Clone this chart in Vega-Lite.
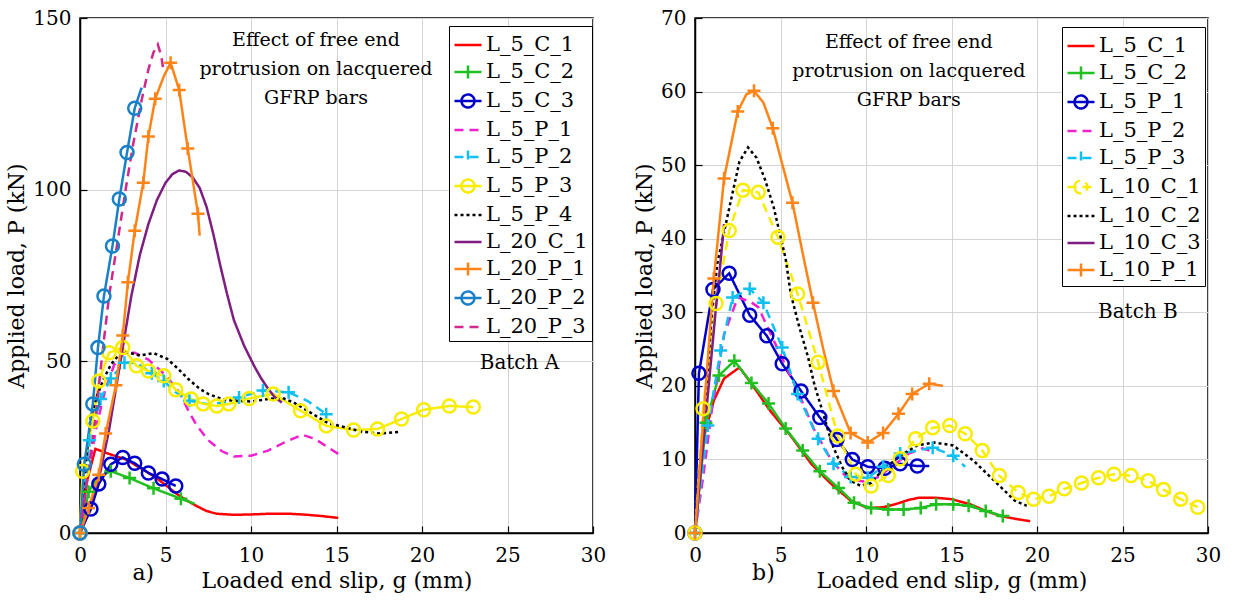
{
"$schema": "https://vega.github.io/schema/vega-lite/v6.json",
"background": "white",
"padding": {"left": 5, "top": 7, "right": 5, "bottom": 2},
"config": {
 "font": "DejaVu Serif",
 "view": {"stroke": "black", "strokeWidth": 1.5},
 "axis": {"labelFont": "DejaVu Serif", "titleFont": "DejaVu Serif", "labelFontSize": 20, "titleFontSize": 22, "titleFontWeight": "normal", "labelColor": "black", "titleColor": "black", "domainColor": "black", "domainWidth": 1.5, "tickColor": "black", "tickSize": -7, "tickWidth": 1.2, "gridColor": "#d4d4d4", "gridWidth": 1, "labelFlush": false},
 "axisX": {"labelPadding": 19, "titlePadding": 5},
 "axisY": {"labelPadding": 16, "titlePadding": 4},
 "legend": {"labelFont": "DejaVu Serif", "labelFontSize": 21, "labelColor": "black", "symbolSize": 729, "symbolStrokeWidth": 2.5, "symbolType": "stroke", "strokeColor": "black", "fillColor": "white", "padding": 4, "rowPadding": 2, "labelOffset": 3},
 "text": {"font": "DejaVu Serif"}
},
"datasets": {
 "la": [
  {"s":"L_5_C_1","x":0,"y":0},{"s":"L_5_C_1","x":0.4,"y":15},{"s":"L_5_C_1","x":0.9,"y":24.5},{"s":"L_5_C_1","x":1.6,"y":23.2},{"s":"L_5_C_1","x":2.7,"y":21.4},{"s":"L_5_C_1","x":3.5,"y":19},{"s":"L_5_C_1","x":4.3,"y":16.6},{"s":"L_5_C_1","x":5,"y":14},{"s":"L_5_C_1","x":5.6,"y":11.6},{"s":"L_5_C_1","x":6.2,"y":9.6},{"s":"L_5_C_1","x":6.8,"y":7.9},{"s":"L_5_C_1","x":7.4,"y":6.4},{"s":"L_5_C_1","x":8,"y":5.6},{"s":"L_5_C_1","x":9,"y":5.3},{"s":"L_5_C_1","x":10,"y":5.4},{"s":"L_5_C_1","x":11,"y":5.6},{"s":"L_5_C_1","x":12.3,"y":5.6},{"s":"L_5_C_1","x":13.3,"y":5.3},{"s":"L_5_C_1","x":14.2,"y":4.9},{"s":"L_5_C_1","x":15.1,"y":4.4},
  {"s":"L_5_C_2","x":0,"y":0},{"s":"L_5_C_2","x":0.5,"y":12},{"s":"L_5_C_2","x":1,"y":16},{"s":"L_5_C_2","x":1.8,"y":18},{"s":"L_5_C_2","x":2.9,"y":16},{"s":"L_5_C_2","x":4.3,"y":13},{"s":"L_5_C_2","x":5.9,"y":10},{"s":"L_5_C_2","x":6.7,"y":8.5},
  {"s":"L_5_C_3","x":0,"y":0},{"s":"L_5_C_3","x":0.64,"y":7},{"s":"L_5_C_3","x":1.1,"y":14.3},{"s":"L_5_C_3","x":1.8,"y":20},{"s":"L_5_C_3","x":2.5,"y":22},{"s":"L_5_C_3","x":3.2,"y":20.3},{"s":"L_5_C_3","x":4,"y":17.5},{"s":"L_5_C_3","x":4.8,"y":15.7},{"s":"L_5_C_3","x":5.6,"y":13.7},
  {"s":"L_5_P_1","x":0,"y":0},{"s":"L_5_P_1","x":0.5,"y":18},{"s":"L_5_P_1","x":1,"y":32},{"s":"L_5_P_1","x":1.5,"y":42},{"s":"L_5_P_1","x":2,"y":49},{"s":"L_5_P_1","x":2.6,"y":52.5},{"s":"L_5_P_1","x":3.2,"y":52.5},{"s":"L_5_P_1","x":4,"y":50.5},{"s":"L_5_P_1","x":5,"y":46},{"s":"L_5_P_1","x":5.8,"y":41},{"s":"L_5_P_1","x":6.3,"y":36},{"s":"L_5_P_1","x":6.8,"y":31.5},{"s":"L_5_P_1","x":7.5,"y":27},{"s":"L_5_P_1","x":8.3,"y":23.8},{"s":"L_5_P_1","x":9,"y":22.3},{"s":"L_5_P_1","x":10,"y":22.5},{"s":"L_5_P_1","x":11,"y":24},{"s":"L_5_P_1","x":12,"y":26.5},{"s":"L_5_P_1","x":13,"y":28.6},{"s":"L_5_P_1","x":13.7,"y":27.5},{"s":"L_5_P_1","x":14.5,"y":25},{"s":"L_5_P_1","x":15.3,"y":22.4},
  {"s":"L_5_P_2","x":0,"y":0},{"s":"L_5_P_2","x":0.55,"y":27},{"s":"L_5_P_2","x":1.2,"y":39},{"s":"L_5_P_2","x":1.8,"y":45},{"s":"L_5_P_2","x":2.6,"y":49.6},{"s":"L_5_P_2","x":3.3,"y":49.5},{"s":"L_5_P_2","x":4.2,"y":46.5},{"s":"L_5_P_2","x":4.9,"y":44.3},{"s":"L_5_P_2","x":5.6,"y":41},{"s":"L_5_P_2","x":6.4,"y":38.5},{"s":"L_5_P_2","x":7.5,"y":37.5},{"s":"L_5_P_2","x":8.4,"y":38},{"s":"L_5_P_2","x":9.3,"y":39.5},{"s":"L_5_P_2","x":10.7,"y":41.5},{"s":"L_5_P_2","x":12.2,"y":41},{"s":"L_5_P_2","x":13.3,"y":38.5},{"s":"L_5_P_2","x":14.4,"y":34.6},
  {"s":"L_5_P_3","x":0,"y":0},{"s":"L_5_P_3","x":0.15,"y":18},{"s":"L_5_P_3","x":0.75,"y":32.6},{"s":"L_5_P_3","x":1.1,"y":44.3},{"s":"L_5_P_3","x":1.7,"y":52.5},{"s":"L_5_P_3","x":2.5,"y":54},{"s":"L_5_P_3","x":3.3,"y":48.7},{"s":"L_5_P_3","x":4,"y":47.2},{"s":"L_5_P_3","x":4.9,"y":45.8},{"s":"L_5_P_3","x":5.6,"y":41.7},{"s":"L_5_P_3","x":6.5,"y":39},{"s":"L_5_P_3","x":7.2,"y":37.6},{"s":"L_5_P_3","x":8,"y":37},{"s":"L_5_P_3","x":8.7,"y":37.6},{"s":"L_5_P_3","x":9.9,"y":39.2},{"s":"L_5_P_3","x":11.3,"y":40.5},{"s":"L_5_P_3","x":12.9,"y":35.6},{"s":"L_5_P_3","x":14.4,"y":31.2},{"s":"L_5_P_3","x":16,"y":30},{"s":"L_5_P_3","x":17.4,"y":30.3},{"s":"L_5_P_3","x":18.8,"y":33.2},{"s":"L_5_P_3","x":20.1,"y":35.9},{"s":"L_5_P_3","x":21.6,"y":37},{"s":"L_5_P_3","x":23,"y":36.7},
  {"s":"L_5_P_4","x":0,"y":0},{"s":"L_5_P_4","x":0.3,"y":18},{"s":"L_5_P_4","x":0.6,"y":33},{"s":"L_5_P_4","x":1,"y":40},{"s":"L_5_P_4","x":1.4,"y":45},{"s":"L_5_P_4","x":1.8,"y":49},{"s":"L_5_P_4","x":2.3,"y":52},{"s":"L_5_P_4","x":2.8,"y":52.6},{"s":"L_5_P_4","x":3.5,"y":51.7},{"s":"L_5_P_4","x":4.3,"y":52.4},{"s":"L_5_P_4","x":5.1,"y":50.7},{"s":"L_5_P_4","x":5.7,"y":48},{"s":"L_5_P_4","x":6.3,"y":45},{"s":"L_5_P_4","x":7,"y":42},{"s":"L_5_P_4","x":7.5,"y":40.5},{"s":"L_5_P_4","x":8.3,"y":39},{"s":"L_5_P_4","x":9,"y":38.5},{"s":"L_5_P_4","x":10,"y":38.3},{"s":"L_5_P_4","x":11,"y":39},{"s":"L_5_P_4","x":11.8,"y":39.4},{"s":"L_5_P_4","x":12.5,"y":38},{"s":"L_5_P_4","x":13.5,"y":35},{"s":"L_5_P_4","x":14.5,"y":32},{"s":"L_5_P_4","x":15.5,"y":30.8},{"s":"L_5_P_4","x":16.5,"y":29.5},{"s":"L_5_P_4","x":17.5,"y":29},{"s":"L_5_P_4","x":18.6,"y":29.4},
  {"s":"L_20_C_1","x":0,"y":0},{"s":"L_20_C_1","x":0.6,"y":8},{"s":"L_20_C_1","x":1.2,"y":18},{"s":"L_20_C_1","x":1.7,"y":30},{"s":"L_20_C_1","x":2.2,"y":45},{"s":"L_20_C_1","x":2.6,"y":57},{"s":"L_20_C_1","x":3,"y":69},{"s":"L_20_C_1","x":3.5,"y":81},{"s":"L_20_C_1","x":4,"y":90},{"s":"L_20_C_1","x":4.5,"y":97},{"s":"L_20_C_1","x":5,"y":102},{"s":"L_20_C_1","x":5.4,"y":104.5},{"s":"L_20_C_1","x":5.8,"y":105.6},{"s":"L_20_C_1","x":6.2,"y":105.2},{"s":"L_20_C_1","x":6.6,"y":103.5},{"s":"L_20_C_1","x":7,"y":100.5},{"s":"L_20_C_1","x":7.4,"y":95},{"s":"L_20_C_1","x":7.8,"y":87},{"s":"L_20_C_1","x":8.2,"y":78},{"s":"L_20_C_1","x":8.6,"y":69.6},{"s":"L_20_C_1","x":9,"y":62},{"s":"L_20_C_1","x":9.6,"y":54.5},{"s":"L_20_C_1","x":10.2,"y":48.5},{"s":"L_20_C_1","x":10.6,"y":45},{"s":"L_20_C_1","x":11,"y":42},{"s":"L_20_C_1","x":11.4,"y":39.5},{"s":"L_20_C_1","x":11.8,"y":38},
  {"s":"L_20_P_1","x":0,"y":0},{"s":"L_20_P_1","x":0.5,"y":7.3},{"s":"L_20_P_1","x":1.1,"y":17},{"s":"L_20_P_1","x":1.5,"y":29},{"s":"L_20_P_1","x":2.1,"y":43},{"s":"L_20_P_1","x":2.5,"y":57.5},{"s":"L_20_P_1","x":2.8,"y":73},{"s":"L_20_P_1","x":3.2,"y":88},{"s":"L_20_P_1","x":3.7,"y":102},{"s":"L_20_P_1","x":4,"y":115.5},{"s":"L_20_P_1","x":4.4,"y":126.5},{"s":"L_20_P_1","x":4.9,"y":133},{"s":"L_20_P_1","x":5.3,"y":137},{"s":"L_20_P_1","x":5.8,"y":129},{"s":"L_20_P_1","x":6.3,"y":112},{"s":"L_20_P_1","x":6.9,"y":93},{"s":"L_20_P_1","x":7,"y":86.6},
  {"s":"L_20_P_2","x":0,"y":0},{"s":"L_20_P_2","x":0.25,"y":20},{"s":"L_20_P_2","x":0.75,"y":37.6},{"s":"L_20_P_2","x":1.05,"y":54},{"s":"L_20_P_2","x":1.4,"y":69},{"s":"L_20_P_2","x":1.9,"y":83.6},{"s":"L_20_P_2","x":2.3,"y":97.3},{"s":"L_20_P_2","x":2.75,"y":110.8},{"s":"L_20_P_2","x":3.2,"y":123.7},{"s":"L_20_P_2","x":3.6,"y":129.7},
  {"s":"L_20_P_3","x":0,"y":0},{"s":"L_20_P_3","x":0.4,"y":15},{"s":"L_20_P_3","x":0.9,"y":33},{"s":"L_20_P_3","x":1.3,"y":52},{"s":"L_20_P_3","x":1.7,"y":69},{"s":"L_20_P_3","x":2.2,"y":85},{"s":"L_20_P_3","x":2.7,"y":101},{"s":"L_20_P_3","x":3.1,"y":113},{"s":"L_20_P_3","x":3.6,"y":126},{"s":"L_20_P_3","x":4,"y":135},{"s":"L_20_P_3","x":4.3,"y":140},{"s":"L_20_P_3","x":4.55,"y":142.3},{"s":"L_20_P_3","x":4.75,"y":139},{"s":"L_20_P_3","x":4.9,"y":134}
 ],
 "ma": [
  {"s":"L_5_C_2","x":0,"y":0},{"s":"L_5_C_2","x":0.5,"y":12},{"s":"L_5_C_2","x":1.8,"y":18},{"s":"L_5_C_2","x":2.9,"y":16},{"s":"L_5_C_2","x":4.3,"y":13},{"s":"L_5_C_2","x":5.9,"y":10},
  {"s":"L_5_C_3","x":0,"y":0},{"s":"L_5_C_3","x":0.64,"y":7},{"s":"L_5_C_3","x":1.1,"y":14.3},{"s":"L_5_C_3","x":1.8,"y":20},{"s":"L_5_C_3","x":2.5,"y":22},{"s":"L_5_C_3","x":3.2,"y":20.3},{"s":"L_5_C_3","x":4,"y":17.5},{"s":"L_5_C_3","x":4.8,"y":15.7},{"s":"L_5_C_3","x":5.6,"y":13.7},
  {"s":"L_5_P_2","x":0,"y":0},{"s":"L_5_P_2","x":0.55,"y":27},{"s":"L_5_P_2","x":1.2,"y":39},{"s":"L_5_P_2","x":1.8,"y":45},{"s":"L_5_P_2","x":2.6,"y":49.6},{"s":"L_5_P_2","x":4.2,"y":46.5},{"s":"L_5_P_2","x":4.9,"y":44.3},{"s":"L_5_P_2","x":6.4,"y":38.5},{"s":"L_5_P_2","x":9.3,"y":39.5},{"s":"L_5_P_2","x":10.7,"y":41.5},{"s":"L_5_P_2","x":12.2,"y":41},{"s":"L_5_P_2","x":14.4,"y":34.6},
  {"s":"L_5_P_3","x":0,"y":0},{"s":"L_5_P_3","x":0.15,"y":18},{"s":"L_5_P_3","x":0.75,"y":32.6},{"s":"L_5_P_3","x":1.1,"y":44.3},{"s":"L_5_P_3","x":1.7,"y":52.5},{"s":"L_5_P_3","x":2.5,"y":54},{"s":"L_5_P_3","x":3.3,"y":48.7},{"s":"L_5_P_3","x":4,"y":47.2},{"s":"L_5_P_3","x":4.9,"y":45.8},{"s":"L_5_P_3","x":5.6,"y":41.7},{"s":"L_5_P_3","x":6.5,"y":39},{"s":"L_5_P_3","x":7.2,"y":37.6},{"s":"L_5_P_3","x":8,"y":37},{"s":"L_5_P_3","x":8.7,"y":37.6},{"s":"L_5_P_3","x":9.9,"y":39.2},{"s":"L_5_P_3","x":11.3,"y":40.5},{"s":"L_5_P_3","x":12.9,"y":35.6},{"s":"L_5_P_3","x":14.4,"y":31.2},{"s":"L_5_P_3","x":16,"y":30},{"s":"L_5_P_3","x":17.4,"y":30.3},{"s":"L_5_P_3","x":18.8,"y":33.2},{"s":"L_5_P_3","x":20.1,"y":35.9},{"s":"L_5_P_3","x":21.6,"y":37},{"s":"L_5_P_3","x":23,"y":36.7},
  {"s":"L_20_P_1","x":0,"y":0},{"s":"L_20_P_1","x":0.5,"y":7.3},{"s":"L_20_P_1","x":1.1,"y":17},{"s":"L_20_P_1","x":1.5,"y":29},{"s":"L_20_P_1","x":2.1,"y":43},{"s":"L_20_P_1","x":2.5,"y":57.5},{"s":"L_20_P_1","x":2.8,"y":73},{"s":"L_20_P_1","x":3.2,"y":88},{"s":"L_20_P_1","x":3.7,"y":102},{"s":"L_20_P_1","x":4,"y":115.5},{"s":"L_20_P_1","x":4.4,"y":126.5},{"s":"L_20_P_1","x":5.3,"y":137},{"s":"L_20_P_1","x":5.8,"y":129},{"s":"L_20_P_1","x":6.3,"y":112},{"s":"L_20_P_1","x":6.9,"y":93},
  {"s":"L_20_P_2","x":0,"y":0},{"s":"L_20_P_2","x":0.25,"y":20},{"s":"L_20_P_2","x":0.75,"y":37.6},{"s":"L_20_P_2","x":1.05,"y":54},{"s":"L_20_P_2","x":1.4,"y":69},{"s":"L_20_P_2","x":1.9,"y":83.6},{"s":"L_20_P_2","x":2.3,"y":97.3},{"s":"L_20_P_2","x":2.75,"y":110.8},{"s":"L_20_P_2","x":3.2,"y":123.7}
 ],
 "lb": [
  {"s":"L_5_C_1","x":0,"y":0},{"s":"L_5_C_1","x":0.5,"y":12.9},{"s":"L_5_C_1","x":1.1,"y":18},{"s":"L_5_C_1","x":1.7,"y":21},{"s":"L_5_C_1","x":2.6,"y":22.5},{"s":"L_5_C_1","x":3.3,"y":20.3},{"s":"L_5_C_1","x":4.4,"y":16.6},{"s":"L_5_C_1","x":5.6,"y":13.2},{"s":"L_5_C_1","x":6.8,"y":9.4},{"s":"L_5_C_1","x":7.95,"y":6.7},{"s":"L_5_C_1","x":9.1,"y":4.4},{"s":"L_5_C_1","x":10.1,"y":3.4},{"s":"L_5_C_1","x":11,"y":3.5},{"s":"L_5_C_1","x":11.7,"y":3.9},{"s":"L_5_C_1","x":12.5,"y":4.5},{"s":"L_5_C_1","x":13.1,"y":4.8},{"s":"L_5_C_1","x":14,"y":4.8},{"s":"L_5_C_1","x":15,"y":4.6},{"s":"L_5_C_1","x":16.1,"y":3.9},{"s":"L_5_C_1","x":17,"y":3},{"s":"L_5_C_1","x":17.9,"y":2.3},{"s":"L_5_C_1","x":18.8,"y":1.9},{"s":"L_5_C_1","x":19.6,"y":1.6},
  {"s":"L_5_C_2","x":0,"y":0},{"s":"L_5_C_2","x":0.64,"y":15},{"s":"L_5_C_2","x":1.4,"y":21.4},{"s":"L_5_C_2","x":2.3,"y":23.4},{"s":"L_5_C_2","x":3.3,"y":20.4},{"s":"L_5_C_2","x":4.3,"y":17.6},{"s":"L_5_C_2","x":5.3,"y":14.2},{"s":"L_5_C_2","x":6.3,"y":11.2},{"s":"L_5_C_2","x":7.3,"y":8.4},{"s":"L_5_C_2","x":8.4,"y":6.1},{"s":"L_5_C_2","x":9.3,"y":4.1},{"s":"L_5_C_2","x":10.3,"y":3.4},{"s":"L_5_C_2","x":11.3,"y":3.2},{"s":"L_5_C_2","x":12.2,"y":3.2},{"s":"L_5_C_2","x":13.2,"y":3.4},{"s":"L_5_C_2","x":14.1,"y":3.9},{"s":"L_5_C_2","x":15.1,"y":3.9},{"s":"L_5_C_2","x":16,"y":3.7},{"s":"L_5_C_2","x":17,"y":3},{"s":"L_5_C_2","x":18,"y":2.3},
  {"s":"L_5_P_1","x":0,"y":0},{"s":"L_5_P_1","x":0.23,"y":21.7},{"s":"L_5_P_1","x":1.05,"y":33.1},{"s":"L_5_P_1","x":2,"y":35.3},{"s":"L_5_P_1","x":3.2,"y":29.6},{"s":"L_5_P_1","x":4.2,"y":26.8},{"s":"L_5_P_1","x":5.1,"y":23},{"s":"L_5_P_1","x":6.2,"y":19.3},{"s":"L_5_P_1","x":7.3,"y":15.7},{"s":"L_5_P_1","x":8.3,"y":12.7},{"s":"L_5_P_1","x":9.2,"y":10},{"s":"L_5_P_1","x":10.1,"y":9},{"s":"L_5_P_1","x":11.1,"y":8.8},{"s":"L_5_P_1","x":12,"y":9.4},{"s":"L_5_P_1","x":13,"y":9.1},{"s":"L_5_P_1","x":13.7,"y":9.1},
  {"s":"L_5_P_2","x":0,"y":0},{"s":"L_5_P_2","x":0.5,"y":8},{"s":"L_5_P_2","x":1,"y":17},{"s":"L_5_P_2","x":1.7,"y":27},{"s":"L_5_P_2","x":2.5,"y":32},{"s":"L_5_P_2","x":3.2,"y":31.5},{"s":"L_5_P_2","x":3.7,"y":30.7},{"s":"L_5_P_2","x":4.8,"y":25.2},{"s":"L_5_P_2","x":6,"y":19.3},{"s":"L_5_P_2","x":7,"y":13.9},{"s":"L_5_P_2","x":8,"y":9.8},{"s":"L_5_P_2","x":8.9,"y":7.5},{"s":"L_5_P_2","x":9.8,"y":7},{"s":"L_5_P_2","x":10.7,"y":7.6},{"s":"L_5_P_2","x":11.5,"y":9},{"s":"L_5_P_2","x":12.5,"y":10.8},{"s":"L_5_P_2","x":13.3,"y":11.5},{"s":"L_5_P_2","x":14,"y":11},
  {"s":"L_5_P_3","x":0,"y":0},{"s":"L_5_P_3","x":0.75,"y":14.6},{"s":"L_5_P_3","x":1.5,"y":24.8},{"s":"L_5_P_3","x":2.2,"y":32},{"s":"L_5_P_3","x":3.2,"y":33.2},{"s":"L_5_P_3","x":4,"y":31.3},{"s":"L_5_P_3","x":5.1,"y":25.2},{"s":"L_5_P_3","x":6,"y":18.9},{"s":"L_5_P_3","x":7.2,"y":12.8},{"s":"L_5_P_3","x":8.1,"y":9.4},{"s":"L_5_P_3","x":9.1,"y":7.6},{"s":"L_5_P_3","x":10.1,"y":7.5},{"s":"L_5_P_3","x":11,"y":9},{"s":"L_5_P_3","x":12,"y":10.8},{"s":"L_5_P_3","x":13.9,"y":11.6},{"s":"L_5_P_3","x":15.1,"y":10.5},{"s":"L_5_P_3","x":15.8,"y":9},
  {"s":"L_10_C_1","x":0,"y":0},{"s":"L_10_C_1","x":0.47,"y":16.9},{"s":"L_10_C_1","x":1.23,"y":31.2},{"s":"L_10_C_1","x":2,"y":41.1},{"s":"L_10_C_1","x":2.8,"y":46.6},{"s":"L_10_C_1","x":3.7,"y":46.3},{"s":"L_10_C_1","x":4.85,"y":40.2},{"s":"L_10_C_1","x":6,"y":32.5},{"s":"L_10_C_1","x":7.2,"y":23.2},{"s":"L_10_C_1","x":8.35,"y":13.2},{"s":"L_10_C_1","x":9.4,"y":8},{"s":"L_10_C_1","x":10.3,"y":6.4},{"s":"L_10_C_1","x":11.3,"y":7.8},{"s":"L_10_C_1","x":12,"y":10.1},{"s":"L_10_C_1","x":12.9,"y":12.8},{"s":"L_10_C_1","x":13.9,"y":14.3},{"s":"L_10_C_1","x":14.9,"y":14.6},{"s":"L_10_C_1","x":15.8,"y":13.5},{"s":"L_10_C_1","x":16.8,"y":11.2},{"s":"L_10_C_1","x":17.8,"y":7.8},{"s":"L_10_C_1","x":18.9,"y":5.5},{"s":"L_10_C_1","x":19.8,"y":4.6},{"s":"L_10_C_1","x":20.7,"y":5},{"s":"L_10_C_1","x":21.6,"y":6},{"s":"L_10_C_1","x":22.6,"y":6.8},{"s":"L_10_C_1","x":23.6,"y":7.5},{"s":"L_10_C_1","x":24.5,"y":8},{"s":"L_10_C_1","x":25.5,"y":7.8},{"s":"L_10_C_1","x":26.5,"y":7.1},{"s":"L_10_C_1","x":27.4,"y":5.9},{"s":"L_10_C_1","x":28.4,"y":4.6},{"s":"L_10_C_1","x":29.4,"y":3.5},
  {"s":"L_10_C_2","x":0,"y":0},{"s":"L_10_C_2","x":0.5,"y":15},{"s":"L_10_C_2","x":1,"y":30},{"s":"L_10_C_2","x":1.3,"y":36.6},{"s":"L_10_C_2","x":2.1,"y":45.2},{"s":"L_10_C_2","x":2.6,"y":50.5},{"s":"L_10_C_2","x":3.1,"y":52.4},{"s":"L_10_C_2","x":3.6,"y":51},{"s":"L_10_C_2","x":4.1,"y":48},{"s":"L_10_C_2","x":4.6,"y":44.3},{"s":"L_10_C_2","x":5.3,"y":37.3},{"s":"L_10_C_2","x":5.6,"y":32.5},{"s":"L_10_C_2","x":6.1,"y":28},{"s":"L_10_C_2","x":6.6,"y":24},{"s":"L_10_C_2","x":7,"y":20},{"s":"L_10_C_2","x":7.4,"y":17},{"s":"L_10_C_2","x":7.8,"y":13.8},{"s":"L_10_C_2","x":8.1,"y":11.6},{"s":"L_10_C_2","x":8.6,"y":9},{"s":"L_10_C_2","x":9.1,"y":7.1},{"s":"L_10_C_2","x":9.7,"y":6.4},{"s":"L_10_C_2","x":10.3,"y":6.8},{"s":"L_10_C_2","x":10.9,"y":8.4},{"s":"L_10_C_2","x":12,"y":10.5},{"s":"L_10_C_2","x":13,"y":11.9},{"s":"L_10_C_2","x":14,"y":12.3},{"s":"L_10_C_2","x":15.1,"y":11.9},{"s":"L_10_C_2","x":16.3,"y":9.8},{"s":"L_10_C_2","x":17.5,"y":7.1},{"s":"L_10_C_2","x":18.7,"y":4.4},{"s":"L_10_C_2","x":19.4,"y":3.7},
  {"s":"L_10_C_3","x":0,"y":0},{"s":"L_10_C_3","x":0.4,"y":10},{"s":"L_10_C_3","x":0.8,"y":20},{"s":"L_10_C_3","x":1.2,"y":30},{"s":"L_10_C_3","x":1.5,"y":37},{"s":"L_10_C_3","x":1.7,"y":42},
  {"s":"L_10_P_1","x":0,"y":0},{"s":"L_10_P_1","x":0.5,"y":16},{"s":"L_10_P_1","x":1.1,"y":34.6},{"s":"L_10_P_1","x":1.7,"y":48.2},{"s":"L_10_P_1","x":2.5,"y":57.3},{"s":"L_10_P_1","x":3,"y":59.6},{"s":"L_10_P_1","x":3.45,"y":60.1},{"s":"L_10_P_1","x":4,"y":58.5},{"s":"L_10_P_1","x":4.55,"y":55},{"s":"L_10_P_1","x":5.7,"y":44.9},{"s":"L_10_P_1","x":6.3,"y":38},{"s":"L_10_P_1","x":6.9,"y":31.3},{"s":"L_10_P_1","x":7.5,"y":25},{"s":"L_10_P_1","x":8.1,"y":19.3},{"s":"L_10_P_1","x":9.1,"y":13.6},{"s":"L_10_P_1","x":10.1,"y":12.3},{"s":"L_10_P_1","x":11,"y":13.6},{"s":"L_10_P_1","x":11.9,"y":16.2},{"s":"L_10_P_1","x":12.7,"y":18.9},{"s":"L_10_P_1","x":13.7,"y":20.3},{"s":"L_10_P_1","x":14.5,"y":20}
 ],
 "mb": [
  {"s":"L_5_C_2","x":0,"y":0},{"s":"L_5_C_2","x":0.64,"y":15},{"s":"L_5_C_2","x":1.4,"y":21.4},{"s":"L_5_C_2","x":2.3,"y":23.4},{"s":"L_5_C_2","x":3.3,"y":20.4},{"s":"L_5_C_2","x":4.3,"y":17.6},{"s":"L_5_C_2","x":5.3,"y":14.2},{"s":"L_5_C_2","x":6.3,"y":11.2},{"s":"L_5_C_2","x":7.3,"y":8.4},{"s":"L_5_C_2","x":8.4,"y":6.1},{"s":"L_5_C_2","x":9.3,"y":4.1},{"s":"L_5_C_2","x":10.3,"y":3.4},{"s":"L_5_C_2","x":11.3,"y":3.2},{"s":"L_5_C_2","x":12.2,"y":3.2},{"s":"L_5_C_2","x":13.2,"y":3.4},{"s":"L_5_C_2","x":14.1,"y":3.9},{"s":"L_5_C_2","x":15.1,"y":3.9},{"s":"L_5_C_2","x":16,"y":3.7},{"s":"L_5_C_2","x":17,"y":3},{"s":"L_5_C_2","x":18,"y":2.3},
  {"s":"L_5_P_1","x":0,"y":0},{"s":"L_5_P_1","x":0.23,"y":21.7},{"s":"L_5_P_1","x":1.05,"y":33.1},{"s":"L_5_P_1","x":2,"y":35.3},{"s":"L_5_P_1","x":3.2,"y":29.6},{"s":"L_5_P_1","x":4.2,"y":26.8},{"s":"L_5_P_1","x":5.1,"y":23},{"s":"L_5_P_1","x":6.2,"y":19.3},{"s":"L_5_P_1","x":7.3,"y":15.7},{"s":"L_5_P_1","x":8.3,"y":12.7},{"s":"L_5_P_1","x":9.2,"y":10},{"s":"L_5_P_1","x":10.1,"y":9},{"s":"L_5_P_1","x":11.1,"y":8.8},{"s":"L_5_P_1","x":12,"y":9.4},{"s":"L_5_P_1","x":13,"y":9.1},
  {"s":"L_5_P_3","x":0,"y":0},{"s":"L_5_P_3","x":0.75,"y":14.6},{"s":"L_5_P_3","x":1.5,"y":24.8},{"s":"L_5_P_3","x":2.2,"y":32},{"s":"L_5_P_3","x":3.2,"y":33.2},{"s":"L_5_P_3","x":4,"y":31.3},{"s":"L_5_P_3","x":5.1,"y":25.2},{"s":"L_5_P_3","x":6,"y":18.9},{"s":"L_5_P_3","x":7.2,"y":12.8},{"s":"L_5_P_3","x":8.1,"y":9.4},{"s":"L_5_P_3","x":9.1,"y":7.6},{"s":"L_5_P_3","x":10.1,"y":7.5},{"s":"L_5_P_3","x":11,"y":9},{"s":"L_5_P_3","x":12,"y":10.8},{"s":"L_5_P_3","x":13.9,"y":11.6},{"s":"L_5_P_3","x":15.1,"y":10.5},
  {"s":"L_10_C_1","x":0,"y":0},{"s":"L_10_C_1","x":0.47,"y":16.9},{"s":"L_10_C_1","x":1.23,"y":31.2},{"s":"L_10_C_1","x":2,"y":41.1},{"s":"L_10_C_1","x":2.8,"y":46.6},{"s":"L_10_C_1","x":3.7,"y":46.3},{"s":"L_10_C_1","x":4.85,"y":40.2},{"s":"L_10_C_1","x":6,"y":32.5},{"s":"L_10_C_1","x":7.2,"y":23.2},{"s":"L_10_C_1","x":8.35,"y":13.2},{"s":"L_10_C_1","x":9.4,"y":8},{"s":"L_10_C_1","x":10.3,"y":6.4},{"s":"L_10_C_1","x":11.3,"y":7.8},{"s":"L_10_C_1","x":12,"y":10.1},{"s":"L_10_C_1","x":12.9,"y":12.8},{"s":"L_10_C_1","x":13.9,"y":14.3},{"s":"L_10_C_1","x":14.9,"y":14.6},{"s":"L_10_C_1","x":15.8,"y":13.5},{"s":"L_10_C_1","x":16.8,"y":11.2},{"s":"L_10_C_1","x":17.8,"y":7.8},{"s":"L_10_C_1","x":18.9,"y":5.5},{"s":"L_10_C_1","x":19.8,"y":4.6},{"s":"L_10_C_1","x":20.7,"y":5},{"s":"L_10_C_1","x":21.6,"y":6},{"s":"L_10_C_1","x":22.6,"y":6.8},{"s":"L_10_C_1","x":23.6,"y":7.5},{"s":"L_10_C_1","x":24.5,"y":8},{"s":"L_10_C_1","x":25.5,"y":7.8},{"s":"L_10_C_1","x":26.5,"y":7.1},{"s":"L_10_C_1","x":27.4,"y":5.9},{"s":"L_10_C_1","x":28.4,"y":4.6},{"s":"L_10_C_1","x":29.4,"y":3.5},
  {"s":"L_10_P_1","x":0,"y":0},{"s":"L_10_P_1","x":1.1,"y":34.6},{"s":"L_10_P_1","x":1.7,"y":48.2},{"s":"L_10_P_1","x":2.5,"y":57.3},{"s":"L_10_P_1","x":3.45,"y":60.1},{"s":"L_10_P_1","x":4.55,"y":55},{"s":"L_10_P_1","x":5.7,"y":44.9},{"s":"L_10_P_1","x":6.9,"y":31.3},{"s":"L_10_P_1","x":8.1,"y":19.3},{"s":"L_10_P_1","x":9.1,"y":13.6},{"s":"L_10_P_1","x":10.1,"y":12.3},{"s":"L_10_P_1","x":11,"y":13.6},{"s":"L_10_P_1","x":11.9,"y":16.2},{"s":"L_10_P_1","x":12.7,"y":18.9},{"s":"L_10_P_1","x":13.7,"y":20.3}
 ]
},
"bounds": "flush",
"spacing": 102,
"resolve": {"scale": {"x": "independent", "y": "independent", "color": "independent", "strokeDash": "independent", "shape": "independent"}, "legend": {"color": "independent", "strokeDash": "independent", "shape": "independent"}},
"hconcat": [
 {
  "width": 513, "height": 515,
  "layer": [
   {"data": {"name": "la"},
    "mark": {"type": "line", "strokeWidth": 2.5, "strokeCap": "butt"},
    "encoding": {
     "x": {"field": "x", "type": "quantitative", "scale": {"domain": [0, 30], "nice": false}, "axis": {"title": "Loaded end slip, g (mm)", "values": [0, 5, 10, 15, 20, 25, 30]}},
     "y": {"field": "y", "type": "quantitative", "scale": {"domain": [0, 150], "nice": false}, "axis": {"title": "Applied load, P (kN)", "values": [0, 50, 100, 150]}},
     "color": {"field": "s", "type": "nominal",
      "scale": {"domain": ["L_5_C_1","L_5_C_2","L_5_C_3","L_5_P_1","L_5_P_2","L_5_P_3","L_5_P_4","L_20_C_1","L_20_P_1","L_20_P_2","L_20_P_3"],
                "range": ["#FF0000","#20C020","#0000C8","#F020D0","#10C0F0","#F8EC00","#000000","#7E1E80","#FF8418","#1A80C8","#D0288C"]},
      "legend": {"title": null, "orient": "none", "legendX": 369, "legendY": 8,
       "encode": {"symbols": {"update": {"fill": {"value": "transparent"}, "shape": {"signal": "indexof(['L_5_C_3','L_5_P_3','L_20_P_2'], datum.value) >= 0 ? 'M-1,0L1,0M-0.48,0A0.48,0.48,0,1,1,0.48,0A0.48,0.48,0,1,1,-0.48,0' : indexof(['L_5_C_2','L_5_P_2','L_20_P_1'], datum.value) >= 0 ? 'M-1,0L1,0M0,-0.48L0,0.48' : 'M-1,0L1,0'"}}}}}},
     "strokeDash": {"field": "s", "type": "nominal",
      "scale": {"domain": ["L_5_C_1","L_5_C_2","L_5_C_3","L_5_P_1","L_5_P_2","L_5_P_3","L_5_P_4","L_20_C_1","L_20_P_1","L_20_P_2","L_20_P_3"],
                "range": [[1,0],[1,0],[1,0],[9,6],[9,6],[1,0],[3,3],[1,0],[1,0],[1,0],[9,6]]}}
    }},
   {"data": {"name": "ma"},
    "mark": {"type": "point", "filled": false, "strokeWidth": 2.5, "size": 169, "opacity": 1},
    "encoding": {
     "x": {"field": "x", "type": "quantitative"},
     "y": {"field": "y", "type": "quantitative"},
     "color": {"field": "s", "type": "nominal"},
     "shape": {"field": "s", "type": "nominal", "legend": null,
      "scale": {"domain": ["L_5_C_2","L_5_C_3","L_5_P_2","L_5_P_3","L_20_P_1","L_20_P_2"],
                "range": ["M-1,0L1,0M0,-1L0,1","circle","M-1,0L1,0M0,-1L0,1","circle","M-1,0L1,0M0,-1L0,1","circle"]}}
    }},
   {"data": {"values": [{}]},
    "mark": {"type": "text", "font": "DejaVu Serif", "fontSize": 19, "lineBreak": "\n", "lineHeight": 29, "align": "center", "baseline": "top", "color": "black"},
    "encoding": {"x": {"datum": 13.8}, "y": {"datum": 146.2}, "text": {"value": "Effect of free end\nprotrusion  on lacquered\nGFRP bars"}}},
   {"data": {"values": [{}]},
    "mark": {"type": "text", "font": "DejaVu Serif", "fontSize": 20, "align": "center", "baseline": "middle", "color": "black"},
    "encoding": {"x": {"datum": 25.7}, "y": {"datum": 49.6}, "text": {"value": "Batch A"}}},
   {"data": {"values": [{}]},
    "mark": {"type": "text", "font": "DejaVu Serif", "fontSize": 22, "align": "center", "baseline": "middle", "color": "black"},
    "encoding": {"x": {"datum": 3.7}, "y": {"datum": -11.7}, "text": {"value": "a)"}}}
  ]
 },
 {
  "width": 513, "height": 515,
  "layer": [
   {"data": {"name": "lb"},
    "mark": {"type": "line", "strokeWidth": 2.5, "strokeCap": "butt"},
    "encoding": {
     "x": {"field": "x", "type": "quantitative", "scale": {"domain": [0, 30], "nice": false}, "axis": {"title": "Loaded end slip, g (mm)", "values": [0, 5, 10, 15, 20, 25, 30]}},
     "y": {"field": "y", "type": "quantitative", "scale": {"domain": [0, 70], "nice": false}, "axis": {"title": "Applied load, P (kN)", "values": [0, 10, 20, 30, 40, 50, 60, 70]}},
     "color": {"field": "s", "type": "nominal",
      "scale": {"domain": ["L_5_C_1","L_5_C_2","L_5_P_1","L_5_P_2","L_5_P_3","L_10_C_1","L_10_C_2","L_10_C_3","L_10_P_1"],
                "range": ["#FF0000","#20C020","#0000C8","#F020D0","#10C0F0","#F8EC00","#000000","#7E1E80","#FF8418"]},
      "legend": {"title": null, "orient": "none", "legendX": 367, "legendY": 9,
       "encode": {"symbols": {"update": {"fill": {"value": "transparent"}, "shape": {"signal": "indexof(['L_5_P_1','L_10_C_1'], datum.value) >= 0 ? 'M-1,0L1,0M-0.48,0A0.48,0.48,0,1,1,0.48,0A0.48,0.48,0,1,1,-0.48,0' : indexof(['L_5_C_2','L_5_P_3','L_10_P_1'], datum.value) >= 0 ? 'M-1,0L1,0M0,-0.48L0,0.48' : 'M-1,0L1,0'"}}}}}},
     "strokeDash": {"field": "s", "type": "nominal",
      "scale": {"domain": ["L_5_C_1","L_5_C_2","L_5_P_1","L_5_P_2","L_5_P_3","L_10_C_1","L_10_C_2","L_10_C_3","L_10_P_1"],
                "range": [[1,0],[1,0],[1,0],[9,6],[9,6],[9,6],[3,3],[1,0],[1,0]]}}
    }},
   {"data": {"name": "mb"},
    "mark": {"type": "point", "filled": false, "strokeWidth": 2.5, "size": 169, "opacity": 1},
    "encoding": {
     "x": {"field": "x", "type": "quantitative"},
     "y": {"field": "y", "type": "quantitative"},
     "color": {"field": "s", "type": "nominal"},
     "shape": {"field": "s", "type": "nominal", "legend": null,
      "scale": {"domain": ["L_5_C_2","L_5_P_1","L_5_P_3","L_10_C_1","L_10_P_1"],
                "range": ["M-1,0L1,0M0,-1L0,1","circle","M-1,0L1,0M0,-1L0,1","circle","M-1,0L1,0M0,-1L0,1"]}}
    }},
   {"data": {"values": [{}]},
    "mark": {"type": "text", "font": "DejaVu Serif", "fontSize": 19, "lineBreak": "\n", "lineHeight": 29, "align": "center", "baseline": "top", "color": "black"},
    "encoding": {"x": {"datum": 12.5}, "y": {"datum": 67.9}, "text": {"value": "Effect of free end\nprotrusion  on lacquered\nGFRP bars"}}},
   {"data": {"values": [{}]},
    "mark": {"type": "text", "font": "DejaVu Serif", "fontSize": 20, "align": "center", "baseline": "middle", "color": "black"},
    "encoding": {"x": {"datum": 25.9}, "y": {"datum": 30}, "text": {"value": "Batch B"}}},
   {"data": {"values": [{}]},
    "mark": {"type": "text", "font": "DejaVu Serif", "fontSize": 22, "align": "center", "baseline": "middle", "color": "black"},
    "encoding": {"x": {"datum": 4.0}, "y": {"datum": -5.4}, "text": {"value": "b)"}}}
  ]
 }
]
}
